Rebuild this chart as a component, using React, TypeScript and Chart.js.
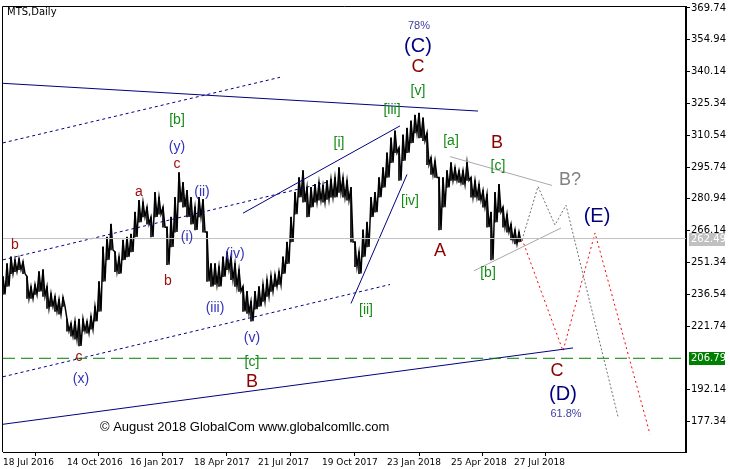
import React, { useEffect, useRef } from 'react';
import { Chart, registerables } from 'chart.js';
Chart.register(...registerables);

// ---- price data (one sample every SAMPLE_STEP trading days, starting 18 Jul 2016)
const SAMPLE_STEP = 4;
const barHigh = [
  244.8, 250.8, 254.0, 252.6, 253.1, 251.7, 244.8, 240.2, 241.1, 247.1,
  248.0, 240.2, 236.9, 235.6, 234.2, 235.1, 225.0, 223.1, 224.0, 225.0,
  225.0, 224.0, 226.3, 230.9, 242.5, 258.6, 263.2, 269.2, 256.3, 254.0,
  261.8, 263.2, 264.6, 274.8, 280.3, 279.4, 277.1, 272.5, 284.0, 281.7,
  277.1, 267.8, 272.5, 281.7, 293.2, 288.6, 284.9, 281.7, 277.1, 281.7,
  280.7, 265.5, 250.8, 250.8, 249.4, 254.0, 256.3, 254.0, 250.8, 248.0,
  240.2, 237.9, 233.3, 237.9, 240.2, 241.1, 243.4, 245.2, 245.7, 247.1,
  254.0, 260.9, 272.5, 284.0, 290.9, 294.1, 286.3, 286.3, 287.7, 288.6,
  287.2, 289.5, 290.0, 290.9, 295.5, 290.9, 289.5, 286.3, 260.9, 256.3,
  266.5, 270.1, 281.7, 284.0, 290.9, 295.5, 302.4, 309.3, 312.6, 304.7,
  310.7, 313.9, 317.2, 319.9, 320.9, 318.6, 311.6, 300.1, 298.7, 290.9,
  290.9, 294.1, 297.8, 295.5, 294.1, 294.1, 297.8, 290.9, 289.5, 287.7,
  284.9, 283.1, 274.8, 284.0, 287.7, 277.1, 273.8, 269.2, 266.5, 265.5,
];
const barLow = [
  236.5, 240.2, 246.2, 247.1, 248.0, 246.2, 234.6, 234.6, 236.5, 237.9,
  235.6, 230.0, 230.9, 228.6, 227.3, 230.9, 219.4, 217.1, 215.7, 212.5,
  219.4, 218.5, 220.3, 224.0, 228.6, 242.5, 252.6, 257.2, 247.1, 246.2,
  252.6, 254.0, 256.3, 263.2, 270.1, 272.5, 269.2, 263.2, 272.5, 273.8,
  267.8, 250.3, 258.6, 265.5, 279.4, 277.1, 272.5, 269.2, 266.5, 272.5,
  265.5, 242.5, 240.2, 241.1, 240.2, 244.8, 248.0, 243.4, 240.2, 237.9,
  228.6, 227.7, 224.0, 229.6, 230.9, 233.3, 235.6, 237.9, 240.2, 241.1,
  246.2, 250.8, 260.9, 273.8, 281.7, 279.4, 272.5, 277.1, 279.4, 280.3,
  279.4, 280.7, 281.7, 281.7, 284.0, 281.7, 280.3, 260.9, 249.4, 246.2,
  254.0, 258.6, 272.5, 274.8, 281.7, 286.3, 290.9, 297.8, 302.4, 289.5,
  298.7, 302.4, 307.0, 311.6, 309.3, 308.0, 296.9, 292.3, 290.9, 266.5,
  277.1, 286.3, 289.5, 289.5, 288.6, 287.7, 289.5, 281.7, 281.7, 280.3,
  277.1, 267.8, 252.6, 270.1, 274.8, 267.8, 265.5, 261.8, 260.0, 260.9,
];

// ---- axes
const X_MAX = 683;
const Y_MIN = 163.2;
const Y_MAX = 370.2;
const dateTickIndex = [0, 64, 127, 191, 255, 319, 384, 448, 511];
const dateTickLabels = ['18 Jul 2016', '14 Oct 2016', '16 Jan 2017', '18 Apr 2017', '21 Jul 2017', '19 Oct 2017', '23 Jan 2018', '25 Apr 2018', '27 Jul 2018'];
const priceTicks = [369.74, 354.94, 340.14, 325.34, 310.54, 295.74, 280.94, 266.14, 251.34, 236.54, 221.74, 192.14, 177.34];
const lastPrice = 262.49;
const supportLevel = 206.79;

// ---- drawn lines (bar index, price)
const topSolid = [[0, 334.7], [475, 321.8]];
const bottomSolid = [[0, 176.1], [570, 211.6]];
const wedgeSolid = [[240, 274.3], [397, 314.9]];
const steepSolid = [[348, 232.3], [404, 292.3]];
const upperDashed = [[0, 307.0], [277, 337.5]];
const middleDashed = [[0, 252.6], [327, 289.0]];
const lowerDashed = [[0, 198.2], [387, 241.1]];
const greyUpper = [[447, 300.6], [549, 287.2]];
const greyLower = [[471, 247.5], [558, 267.4]];
const greyForecast = [[519, 261.8], [535, 286.7], [552, 268.8], [563, 278.0], [615, 179.7]];
const redForecast = [[519, 262.3], [560, 210.2], [592, 265.1], [647, 171.5]];

// ---- wave labels [text, bar index, price]
const navyLabels = [['(C)', 415, 351.8], ['(D)', 560, 189.9], ['(E)', 594, 272.9]];
const darkRedLabels = [['C', 415, 342.5], ['B', 494, 307.0], ['A', 437, 256.8], ['C', 554, 201.0], ['B', 249, 195.9]];
const greenLabels = [['[v]', 415, 331.0], ['[iii]', 389, 322.3], ['[i]', 336, 307.0], ['[iv]', 407, 279.8], ['[ii]', 363, 229.1], ['[a]', 448, 308.0], ['[c]', 495, 296.4], ['[b]', 485, 246.2], ['[b]', 174, 317.6], ['[c]', 249, 205.1]];
const blueLabels = [['(y)', 174, 305.2], ['(ii)', 199, 284.0], ['(i)', 184, 263.2], ['(iv)', 232, 255.4], ['(iii)', 212, 230.0], ['(v)', 249, 216.2], ['(x)', 78, 197.3]];
const redLabels = [['c', 174, 296.9], ['a', 136, 284.0], ['b', 12, 259.5], ['b', 165, 242.9], ['c', 76, 207.4]];
const pctLabels = [['78%', 416, 361.4], ['61.8%', 563, 181.1]];
const greyLabels = [['B?', 567, 289.5]];
const copyright = ['\u00A9 August 2018 GlobalCom www.globalcomllc.com', 97, 174.7];
const title = 'MTS,Daily';

const toXY = (arr: number[][]) => arr.map(([x, y]) => ({ x, y }));

const lineDs = (data: any[], color: string, dash: number[] = [], width = 1) => ({
  type: 'line' as const,
  data,
  borderColor: color,
  borderWidth: width,
  borderDash: dash,
  pointRadius: 0,
  tension: 0,
  fill: false,
});

const labelStyles: [any[], string, number][] = [
  [navyLabels, '#000080', 20],
  [darkRedLabels, '#8B0000', 18],
  [greenLabels, '#158a15', 14],
  [blueLabels, '#3333bb', 14],
  [redLabels, '#a01010', 14],
  [pctLabels, '#3f3f9f', 11],
  [greyLabels, '#808080', 18],
];

const overlayPlugin = {
  id: 'overlay',
  afterDatasetsDraw(chart: any) {
    const { ctx, chartArea, scales } = chart;
    const xs = scales.x, ys = scales.y;
    ctx.save();
    ctx.textAlign = 'center';
    ctx.textBaseline = 'middle';
    for (const [list, color, size] of labelStyles) {
      ctx.fillStyle = color;
      ctx.font = `${size}px "Liberation Sans", Arial, sans-serif`;
      for (const [t, i, v] of list) {
        ctx.fillText(t, xs.getPixelForValue(i), ys.getPixelForValue(v));
      }
    }
    ctx.textAlign = 'left';
    ctx.fillStyle = '#000';
    ctx.font = '13px "Liberation Sans", Arial, sans-serif';
    ctx.fillText(copyright[0], xs.getPixelForValue(copyright[1] as number), ys.getPixelForValue(copyright[2] as number));
    ctx.font = '10px "DejaVu Sans", sans-serif';
    ctx.fillText(title, chartArea.left + 4, chartArea.top + 5);
    ctx.restore();
  },
  afterDraw(chart: any) {
    const { ctx, chartArea, scales } = chart;
    const ys = scales.y;
    ctx.save();
    ctx.strokeStyle = '#000';
    ctx.lineWidth = 1;
    ctx.beginPath();
    ctx.moveTo(chartArea.left - 0.5, chartArea.bottom);
    ctx.lineTo(chartArea.left - 0.5, chartArea.top - 0.5);
    ctx.lineTo(chartArea.right, chartArea.top - 0.5);
    ctx.stroke();
    const boxes: [number, string][] = [[lastPrice, '#c0c0c0'], [supportLevel, '#008000']];
    ctx.font = '10px "DejaVu Sans", sans-serif';
    ctx.textAlign = 'left';
    ctx.textBaseline = 'middle';
    for (const [v, c] of boxes) {
      const y = Math.round(ys.getPixelForValue(v));
      ctx.fillStyle = c;
      ctx.fillRect(chartArea.right + 3, y - 6, 36, 13);
      ctx.fillStyle = '#fff';
      ctx.fillText(v.toFixed(2), chartArea.right + 5, y + 0.5);
    }
    ctx.restore();
  },
};

export default function App() {
  const ref = useRef<HTMLCanvasElement>(null);
  useEffect(() => {
    Chart.defaults.font.family = '"DejaVu Sans", sans-serif';
    Chart.defaults.font.size = 10;
    Chart.defaults.color = '#000';
    const bars = barHigh.map((h, k) => ({ x: k * SAMPLE_STEP, y: [barLow[k], h] }));
    // price path: each sample's high then its low, half a step apart
    const zigzag: { x: number; y: number }[] = [];
    barHigh.forEach((h, k) => {
      zigzag.push({ x: k * SAMPLE_STEP, y: h });
      zigzag.push({ x: k * SAMPLE_STEP + SAMPLE_STEP / 2, y: barLow[k] });
    });
    const chart = new Chart(ref.current as HTMLCanvasElement, {
      type: 'line',
      data: {
        datasets: [
          lineDs(toXY([[0, lastPrice], [X_MAX, lastPrice]]), '#c0c0c0'),
          lineDs(toXY([[0, supportLevel], [X_MAX, supportLevel]]), '#008000', [12, 6]),
          lineDs(toXY(topSolid), '#000080'),
          lineDs(toXY(bottomSolid), '#000080'),
          lineDs(toXY(wedgeSolid), '#000080'),
          lineDs(toXY(steepSolid), '#000080'),
          lineDs(toXY(upperDashed), '#000080', [3, 3]),
          lineDs(toXY(middleDashed), '#000080', [3, 3]),
          lineDs(toXY(lowerDashed), '#000080', [3, 3]),
          lineDs(toXY(greyUpper), '#a8a8a8'),
          lineDs(toXY(greyLower), '#a8a8a8'),
          lineDs(toXY(greyForecast), '#707070', [2, 2]),
          lineDs(toXY(redForecast), '#ff0000', [2, 3]),
          lineDs(zigzag, '#000', [], 1.5),
          {
            type: 'bar' as const,
            data: bars as any,
            backgroundColor: '#000',
            barThickness: 1,
            borderWidth: 0,
            grouped: false,
          } as any,
        ],
      },
      options: {
        responsive: false,
        animation: false,
        events: [],
        layout: { padding: { left: 3, top: 3, right: 0, bottom: 0 } },
        plugins: { legend: { display: false }, tooltip: { enabled: false } },
        scales: {
          x: {
            type: 'linear',
            min: 0,
            max: X_MAX,
            offset: false,
            afterBuildTicks: (s: any) => { s.ticks = dateTickIndex.map((v) => ({ value: v })); },
            afterFit: (s: any) => { s.height = 17; },
            grid: { drawOnChartArea: false, drawTicks: true, tickLength: 4, color: '#000' },
            border: { display: true, color: '#000', width: 1 },
            ticks: {
              autoSkip: false,
              maxRotation: 0,
              minRotation: 0,
              align: 'start',
              padding: 1,
              font: { family: '"DejaVu Sans", sans-serif', size: 9 },
              callback: (v: any) => dateTickLabels[dateTickIndex.indexOf(Number(v))] ?? '',
            },
          },
          y: {
            type: 'linear',
            position: 'right',
            min: Y_MIN,
            max: Y_MAX,
            afterBuildTicks: (s: any) => { s.ticks = priceTicks.map((v) => ({ value: v })); },
            afterFit: (s: any) => { s.width = 44; },
            grid: { drawOnChartArea: false, drawTicks: true, tickLength: 4, color: '#000' },
            border: { display: true, color: '#000', width: 2 },
            ticks: { padding: 1, callback: (v: any) => Number(v).toFixed(2) },
          },
        },
      },
      plugins: [overlayPlugin],
    } as any);
    return () => chart.destroy();
  }, []);
  return (
    <div style={{ position: 'absolute', left: 0, top: 0, width: 730, height: 469, background: '#fff' }}>
      <canvas ref={ref} width={730} height={469} />
    </div>
  );
}
